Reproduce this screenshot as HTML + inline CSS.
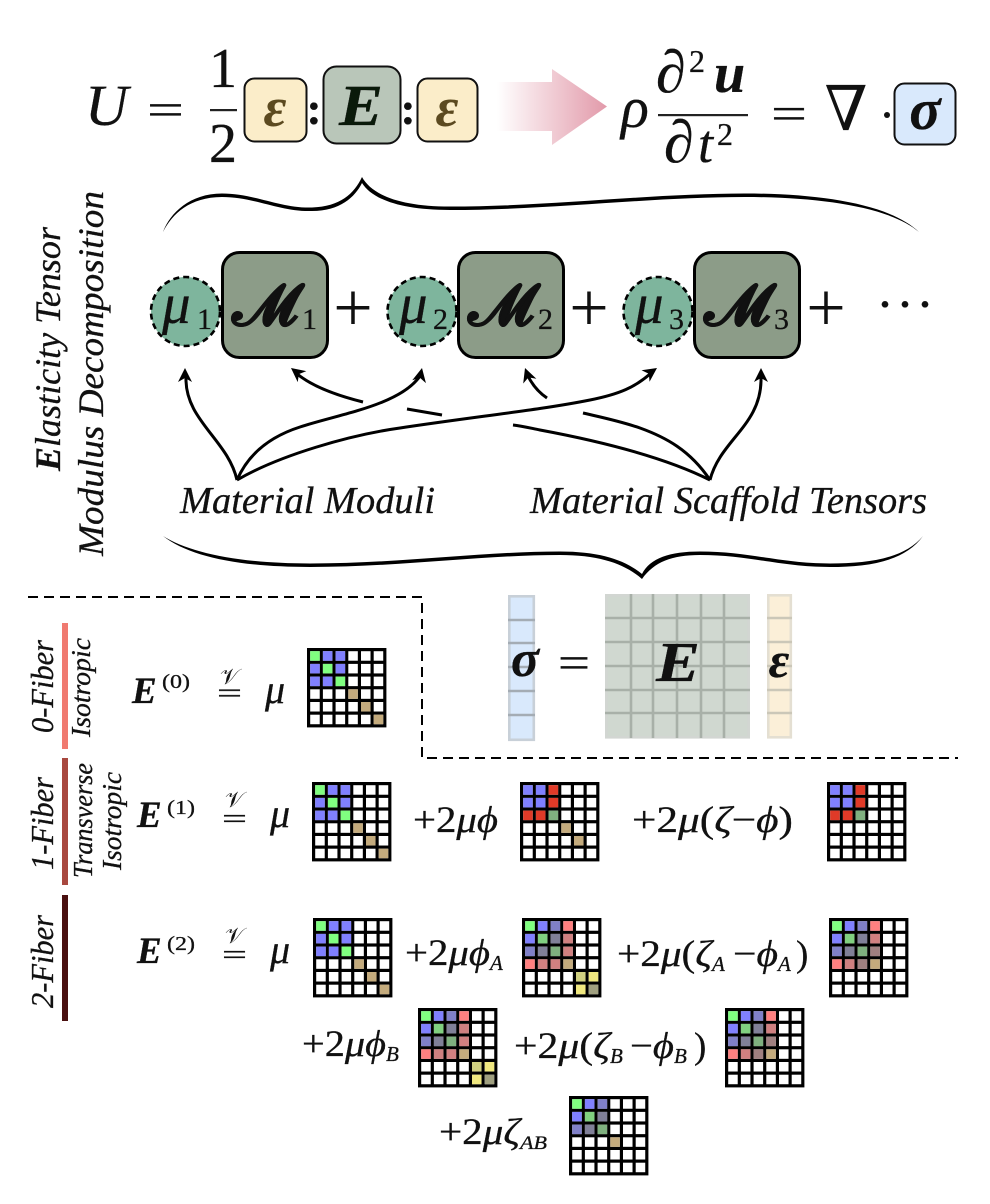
<!DOCTYPE html>
<html><head><meta charset="utf-8">
<style>
html,body{margin:0;padding:0;background:#fff}
svg{display:block}
text{font-family:"Liberation Serif","DejaVu Serif",serif;fill:#111;stroke:#111;stroke-width:.3}
.i{font-style:italic}
.b{font-style:italic;font-weight:bold}
.m rect,#rw rect{width:.75px;height:.75px}
.w{fill:#fff}.g{fill:#80ff80}.u{fill:#8080ff}.t{fill:#c4ab7d}.r{fill:#e03a28}.G{fill:#7fb07f}
.B{fill:#8080c8}.p{fill:#ff8080}.L{fill:#80d080}.K{fill:#808098}.R{fill:#d08080}.M{fill:#a08080}
.Y{fill:#d0d080}.y{fill:#f0e880}.O{fill:#a0a080}
.v{font-family:"DejaVu Sans","Liberation Serif",serif;stroke:none}
</style></head><body>
<svg width="990" height="1204" viewBox="0 0 990 1204" xmlns="http://www.w3.org/2000/svg">
<defs>
<linearGradient id="ag" x1="0" x2="1" y1="0" y2="0"><stop offset="0" stop-color="#fff"/><stop offset="1" stop-color="#e29aaa"/></linearGradient>
<g id="rw"><rect class="w" x="0"/><rect class="w" x="1"/><rect class="w" x="2"/><rect class="w" x="3"/><rect class="w" x="4"/><rect class="w" x="5"/></g>
<g id="bg"><rect width="79.4" height="79.4" fill="#000"/></g>
<g id="wc"><use href="#rw" y="0"/><use href="#rw" y="1"/><use href="#rw" y="2"/><use href="#rw" y="3"/><use href="#rw" y="4"/><use href="#rw" y="5"/></g>
<g id="A"><use href="#bg"/><g class="m" transform="matrix(12.7 0 0 12.7 3.2 3.2)"><use href="#wc"/>
<rect class="g" x="0" y="0"/><rect class="u" x="1" y="0"/><rect class="u" x="2" y="0"/>
<rect class="u" x="0" y="1"/><rect class="g" x="1" y="1"/><rect class="u" x="2" y="1"/>
<rect class="u" x="0" y="2"/><rect class="u" x="1" y="2"/><rect class="g" x="2" y="2"/>
<rect class="t" x="3" y="3"/><rect class="t" x="4" y="4"/><rect class="t" x="5" y="5"/></g></g>
<g id="Bm"><use href="#bg"/><g class="m" transform="matrix(12.7 0 0 12.7 3.2 3.2)"><use href="#wc"/>
<rect class="u" x="0" y="0"/><rect class="u" x="1" y="0"/><rect class="r" x="2" y="0"/>
<rect class="u" x="0" y="1"/><rect class="u" x="1" y="1"/><rect class="r" x="2" y="1"/>
<rect class="r" x="0" y="2"/><rect class="r" x="1" y="2"/><rect class="G" x="2" y="2"/>
<rect class="t" x="3" y="3"/><rect class="t" x="4" y="4"/></g></g>
<g id="C"><use href="#bg"/><g class="m" transform="matrix(12.7 0 0 12.7 3.2 3.2)"><use href="#wc"/>
<rect class="u" x="0" y="0"/><rect class="u" x="1" y="0"/><rect class="r" x="2" y="0"/>
<rect class="u" x="0" y="1"/><rect class="u" x="1" y="1"/><rect class="r" x="2" y="1"/>
<rect class="r" x="0" y="2"/><rect class="r" x="1" y="2"/><rect class="G" x="2" y="2"/></g></g>
<g id="D"><use href="#bg"/><g class="m" transform="matrix(12.7 0 0 12.7 3.2 3.2)"><use href="#wc"/>
<rect class="g" x="0" y="0"/><rect class="u" x="1" y="0"/><rect class="B" x="2" y="0"/><rect class="p" x="3" y="0"/>
<rect class="u" x="0" y="1"/><rect class="L" x="1" y="1"/><rect class="K" x="2" y="1"/><rect class="R" x="3" y="1"/>
<rect class="B" x="0" y="2"/><rect class="K" x="1" y="2"/><rect class="G" x="2" y="2"/><rect class="R" x="3" y="2"/>
<rect class="p" x="0" y="3"/><rect class="R" x="1" y="3"/><rect class="R" x="2" y="3"/><rect class="t" x="3" y="3"/>
<rect class="Y" x="4" y="4"/><rect class="y" x="5" y="4"/><rect class="y" x="4" y="5"/><rect class="O" x="5" y="5"/></g></g>
<g id="E"><use href="#bg"/><g class="m" transform="matrix(12.7 0 0 12.7 3.2 3.2)"><use href="#wc"/>
<rect class="g" x="0" y="0"/><rect class="u" x="1" y="0"/><rect class="B" x="2" y="0"/><rect class="p" x="3" y="0"/>
<rect class="u" x="0" y="1"/><rect class="L" x="1" y="1"/><rect class="K" x="2" y="1"/><rect class="R" x="3" y="1"/>
<rect class="B" x="0" y="2"/><rect class="K" x="1" y="2"/><rect class="G" x="2" y="2"/><rect class="M" x="3" y="2"/>
<rect class="p" x="0" y="3"/><rect class="R" x="1" y="3"/><rect class="M" x="2" y="3"/><rect class="t" x="3" y="3"/></g></g>
<g id="H"><use href="#bg"/><g class="m" transform="matrix(12.7 0 0 12.7 3.2 3.2)"><use href="#wc"/>
<rect class="g" x="0" y="0"/><rect class="u" x="1" y="0"/><rect class="B" x="2" y="0"/>
<rect class="u" x="0" y="1"/><rect class="L" x="1" y="1"/><rect class="K" x="2" y="1"/>
<rect class="B" x="0" y="2"/><rect class="K" x="1" y="2"/><rect class="G" x="2" y="2"/>
<rect class="t" x="3" y="3"/></g></g>
<polygon id="ah" points="0,0 -7,14 0,10 7,14" fill="#000"/>
</defs>

<!-- top left equation -->
<text class="i" x="85" y="125" font-size="58" textLength="43" lengthAdjust="spacingAndGlyphs">U</text>
<text x="147" y="124.5" font-size="44" textLength="37" lengthAdjust="spacingAndGlyphs">=</text>
<text x="223" y="87" font-size="56" text-anchor="middle">1</text>
<rect x="210" y="109" width="27" height="2.2" fill="#222"/>
<text x="223" y="162" font-size="56" text-anchor="middle">2</text>
<rect x="244.5" y="78.5" width="62" height="63" rx="10" fill="#fbedc9" stroke="#111" stroke-width="2"/>
<text class="b" x="275" y="126" font-size="56" text-anchor="middle" style="fill:#5c4a20;stroke:none">ε</text>
<text class="b" x="314" y="124" font-size="46" text-anchor="middle" style="font-style:normal">:</text>
<rect x="323.5" y="66.5" width="77" height="77" rx="13" fill="#b9c6b9" stroke="#111" stroke-width="2"/>
<text class="b" x="361" y="125" font-size="58" text-anchor="middle" style="fill:#0a1a0a" textLength="44" lengthAdjust="spacingAndGlyphs">E</text>
<text class="b" x="408" y="124" font-size="46" text-anchor="middle" style="font-style:normal">:</text>
<rect x="417.5" y="78.5" width="60" height="63" rx="10" fill="#fbedc9" stroke="#111" stroke-width="2"/>
<text class="b" x="447" y="126" font-size="56" text-anchor="middle" style="fill:#5c4a20;stroke:none">ε</text>

<!-- big arrow -->
<polygon points="497,82 552,82 552,69 607,106.5 552,145 552,131 497,131" fill="url(#ag)"/>

<!-- top right equation -->
<text class="i" x="621" y="127" font-size="58">ρ</text>
<rect x="658" y="114" width="90" height="2.2" fill="#222"/>
<text class="i" x="656" y="92" font-size="60">∂</text>
<text x="689" y="72" font-size="32">2</text>
<text class="b" x="714" y="92" font-size="56">u</text>
<text class="i" x="664" y="162" font-size="60">∂</text>
<text class="i" x="698" y="162" font-size="54">t</text>
<text x="717" y="145" font-size="32">2</text>
<text x="771" y="129" font-size="46" textLength="36" lengthAdjust="spacingAndGlyphs">=</text>
<text x="846" y="130" font-size="62" text-anchor="middle" style="font-family:'DejaVu Serif',serif;stroke:none">∇</text>
<circle cx="887" cy="115" r="3" fill="#111"/>
<rect x="894.5" y="83.5" width="61" height="61" rx="10" fill="#d9e9fc" stroke="#111" stroke-width="2"/>
<text class="b" x="925" y="129" font-size="58" text-anchor="middle">σ</text>

<!-- braces -->
<path d="M163 232C170 213 190 193.5 222 193.5C255 193.5 280 208.5 312 207.5C340 206.5 354 194 362 177C372 195 400 206.5 450 206.5C550 206.5 650 193.5 745 193.5C820 193.5 890 204 919 232C890 207 820 197 745 197C650 197 550 210 450 210C400 210 372 199 362 183C355 197 340 211 312 211C280 212 255 197 222 197C190 197 172 214 163 232Z" fill="#000"/>
<path d="M163 536C190 553 240 563.5 310 563.5C400 563.5 480 551.5 560 551.5C600 551.5 625 560 642 574C650 558 670 551.5 700 551.5C750 551.5 780 563.5 830 563.5C870 563.5 905 558 923 536C905 561 870 567 830 567C780 567 750 555 700 555C672 555 654 562 642 579C625 564 600 555 560 555C480 555 400 567 310 567C240 567 190 557 163 536Z" fill="#000"/>

<!-- vertical labels -->
<text transform="translate(60,471) rotate(-90)" font-size="36" class="i" textLength="244" lengthAdjust="spacingAndGlyphs"><tspan class="b">E</tspan>lasticity Tensor</text>
<text transform="translate(103,556) rotate(-90)" font-size="36" class="i" textLength="365" lengthAdjust="spacingAndGlyphs">Modulus Decomposition</text>

<!-- decomposition row -->
<circle cx="185.5" cy="311.5" r="34.5" fill="#7eb59d" stroke="#000" stroke-width="2.6" stroke-dasharray="6 4"/>
<rect x="222.5" y="252.5" width="105" height="105" rx="17" fill="#8c9c88" stroke="#000" stroke-width="3"/>
<text class="i" x="162" y="323" font-size="57">μ</text><text x="197" y="329" font-size="30">1</text>
<text class="b" x="232" y="325" font-size="58" textLength="66" lengthAdjust="spacingAndGlyphs" style="font-family:'DejaVu Sans','Liberation Serif',serif;font-style:normal">𝓜</text><text x="302" y="329" font-size="30">1</text>
<text x="353" y="331" font-size="70" text-anchor="middle" style="stroke:none">+</text>

<circle cx="422" cy="311.5" r="34.5" fill="#7eb59d" stroke="#000" stroke-width="2.6" stroke-dasharray="6 4"/>
<rect x="458.5" y="252.5" width="105" height="105" rx="17" fill="#8c9c88" stroke="#000" stroke-width="3"/>
<text class="i" x="399" y="323" font-size="57">μ</text><text x="433" y="329" font-size="30">2</text>
<text class="b" x="468" y="325" font-size="58" textLength="66" lengthAdjust="spacingAndGlyphs" style="font-family:'DejaVu Sans','Liberation Serif',serif;font-style:normal">𝓜</text><text x="538" y="329" font-size="30">2</text>
<text x="589" y="331" font-size="70" text-anchor="middle" style="stroke:none">+</text>

<circle cx="658" cy="311.5" r="34.5" fill="#7eb59d" stroke="#000" stroke-width="2.6" stroke-dasharray="6 4"/>
<rect x="694.5" y="252.5" width="105" height="105" rx="17" fill="#8c9c88" stroke="#000" stroke-width="3"/>
<text class="i" x="635" y="323" font-size="57">μ</text><text x="669" y="329" font-size="30">3</text>
<text class="b" x="704" y="325" font-size="58" textLength="66" lengthAdjust="spacingAndGlyphs" style="font-family:'DejaVu Sans','Liberation Serif',serif;font-style:normal">𝓜</text><text x="774" y="329" font-size="30">3</text>
<text x="826" y="331" font-size="70" text-anchor="middle" style="stroke:none">+</text>
<text x="876" y="322" font-size="54" textLength="58" lengthAdjust="spacing">···</text>

<!-- arrows -->
<g fill="none" stroke="#000" stroke-width="3">
<path d="M237 480C228 440 185 420 186 378"/>
<path d="M237 480C250 450 275 435 300 427C340 414 400 405 420 376"/>
<path d="M237 480C280 455 350 435 400 428C480 416 540 410 590 400C620 394 635 387 650 374"/>
<path d="M710 480C720 440 762 425 761 378"/>
<path d="M710 480C690 450 665 437 640 428C620 421 600 417 583 413"/>
<path d="M547 398C538 392 532 384 528 376"/>
<path d="M710 480C670 460 610 443 540 430C530 428 522 426 513 425"/>
<path d="M442 415L407 409"/>
<path d="M363 402C335 395 310 385 296 373"/>
</g>
<use href="#ah" transform="translate(185,368)"/>
<use href="#ah" transform="translate(422,368) rotate(12)"/>
<use href="#ah" transform="translate(657,368) rotate(55)"/>
<use href="#ah" transform="translate(761,368)"/>
<use href="#ah" transform="translate(525,368) rotate(-20)"/>
<use href="#ah" transform="translate(291,368) rotate(-52)"/>

<text class="i" x="180" y="513" font-size="38" textLength="255" lengthAdjust="spacingAndGlyphs">Material Moduli</text>
<text class="i" x="530" y="513" font-size="38" textLength="397" lengthAdjust="spacingAndGlyphs">Material Scaffold Tensors</text>

<!-- dashed -->
<path d="M28 597H422V758H958" fill="none" stroke="#000" stroke-width="2" stroke-dasharray="10 6"/>

<!-- vector/matrix panel -->
<g stroke="#c8d0d8" stroke-width="2.6">
<rect x="509.3" y="596.3" width="24.5" height="143.5" fill="#d9e9fc"/>
<path d="M508 620H535M508 643H535M508 667H535M508 691H535M508 715H535" fill="none" stroke="#a4acb4"/>
</g>
<g stroke="#d2d6d2" stroke-width="2.6">
<rect x="606.3" y="595.3" width="142.4" height="142" fill="#d0d8d0"/>
<path d="M631 594V738M653 594V738M677 594V738M701 594V738M724 594V738M605 618H750M605 642H750M605 666H750M605 690H750M605 713H750" fill="none" stroke="#a8b0a8"/>
</g>
<g stroke="#e4dfd2" stroke-width="2.6">
<rect x="768.3" y="595.3" width="22.5" height="142" fill="#fbefd8"/>
<path d="M767 618H792M767 642H792M767 666H792M767 690H792M767 713H792" fill="none" stroke="#cbc7b8"/>
</g>
<text class="b" x="525" y="676" font-size="52" text-anchor="middle">σ</text>
<text x="558" y="677.5" font-size="44" textLength="32" lengthAdjust="spacingAndGlyphs">=</text>
<text class="b" x="678" y="681" font-size="56" text-anchor="middle" textLength="44" lengthAdjust="spacingAndGlyphs">E</text>
<text class="b" x="779" y="677" font-size="50" text-anchor="middle">ε</text>

<!-- bars -->
<rect x="62" y="623" width="6" height="126" fill="#f07a70"/>
<rect x="62" y="758" width="6" height="127" fill="#a8483f"/>
<rect x="62" y="895" width="6" height="126" fill="#4a1010"/>
<text class="i" transform="translate(53,733) rotate(-90)" font-size="32" textLength="93" lengthAdjust="spacingAndGlyphs">0-Fiber</text>
<text class="i" transform="translate(53,870) rotate(-90)" font-size="32" textLength="93" lengthAdjust="spacingAndGlyphs">1-Fiber</text>
<text class="i" transform="translate(53,1008) rotate(-90)" font-size="32" textLength="93" lengthAdjust="spacingAndGlyphs">2-Fiber</text>
<text class="i" transform="translate(90,737) rotate(-90)" font-size="27" textLength="99" lengthAdjust="spacingAndGlyphs">Isotropic</text>
<text class="i" transform="translate(92,878) rotate(-90)" font-size="27" textLength="115" lengthAdjust="spacingAndGlyphs">Transverse</text>
<text class="i" transform="translate(121,870) rotate(-90)" font-size="27" textLength="98" lengthAdjust="spacingAndGlyphs">Isotropic</text>

<!-- row 0 -->
<text class="b" x="132" y="703" font-size="37">E</text><text x="162" y="688" font-size="20" textLength="28" lengthAdjust="spacingAndGlyphs">(0)</text>
<text class="v" x="220" y="684" font-size="22" textLength="19" lengthAdjust="spacingAndGlyphs">𝒱</text>
<text x="217" y="702.5" font-size="28" textLength="25" lengthAdjust="spacingAndGlyphs">=</text>
<text class="i" x="265" y="703" font-size="40">μ</text>
<use href="#A" x="307" y="648"/>

<!-- row 1 -->
<text class="b" x="137" y="827" font-size="37">E</text><text x="167" y="814" font-size="20" textLength="28" lengthAdjust="spacingAndGlyphs">(1)</text>
<text class="v" x="225" y="807" font-size="22" textLength="19" lengthAdjust="spacingAndGlyphs">𝒱</text>
<text x="222" y="828" font-size="28" textLength="25" lengthAdjust="spacingAndGlyphs">=</text>
<text class="i" x="270" y="827" font-size="40">μ</text>
<use href="#A" x="312" y="782"/>
<text x="413" y="832" font-size="37" textLength="85" lengthAdjust="spacingAndGlyphs">+2<tspan class="i">μϕ</tspan></text>
<use href="#Bm" x="520" y="782"/>
<text x="632" y="832" font-size="37" textLength="161" lengthAdjust="spacingAndGlyphs">+2<tspan class="i">μ</tspan>(<tspan class="i">ζ</tspan>−<tspan class="i">ϕ</tspan>)</text>
<use href="#C" x="827" y="782"/>

<!-- row 2 -->
<text class="b" x="137" y="963" font-size="37">E</text><text x="167" y="950" font-size="20" textLength="28" lengthAdjust="spacingAndGlyphs">(2)</text>
<text class="v" x="225" y="943" font-size="22" textLength="19" lengthAdjust="spacingAndGlyphs">𝒱</text>
<text x="222" y="964" font-size="28" textLength="25" lengthAdjust="spacingAndGlyphs">=</text>
<text class="i" x="270" y="963" font-size="40">μ</text>
<use href="#A" x="313" y="918"/>
<text x="405" y="965" font-size="37" textLength="85" lengthAdjust="spacingAndGlyphs">+2<tspan class="i">μϕ</tspan></text><text class="i" x="490" y="970" font-size="21">A</text>
<use href="#D" x="522" y="918"/>
<text x="617" y="966" font-size="37" textLength="95" lengthAdjust="spacingAndGlyphs">+2<tspan class="i">μ</tspan>(<tspan class="i">ζ</tspan></text><text class="i" x="712" y="971" font-size="21">A</text>
<text x="733" y="966" font-size="37" textLength="45" lengthAdjust="spacingAndGlyphs">−<tspan class="i">ϕ</tspan></text><text class="i" x="778" y="971" font-size="21">A</text><text x="796" y="966" font-size="37">)</text>
<use href="#E" x="829" y="918"/>

<text x="302" y="1056" font-size="37" textLength="84" lengthAdjust="spacingAndGlyphs">+2<tspan class="i">μϕ</tspan></text><text class="i" x="386" y="1061" font-size="21">B</text>
<use href="#D" x="418" y="1008"/>
<text x="514" y="1058" font-size="37" textLength="96" lengthAdjust="spacingAndGlyphs">+2<tspan class="i">μ</tspan>(<tspan class="i">ζ</tspan></text><text class="i" x="610" y="1063" font-size="21">B</text>
<text x="630" y="1058" font-size="37" textLength="44" lengthAdjust="spacingAndGlyphs">−<tspan class="i">ϕ</tspan></text><text class="i" x="674" y="1063" font-size="21">B</text><text x="694" y="1058" font-size="37">)</text>
<use href="#E" x="725" y="1008"/>

<text x="439" y="1144" font-size="37" textLength="81" lengthAdjust="spacingAndGlyphs">+2<tspan class="i">μζ</tspan></text><text class="i" x="520" y="1149" font-size="19" textLength="27" lengthAdjust="spacingAndGlyphs">AB</text>
<use href="#H" x="569" y="1096"/>
</svg>
</body></html>
